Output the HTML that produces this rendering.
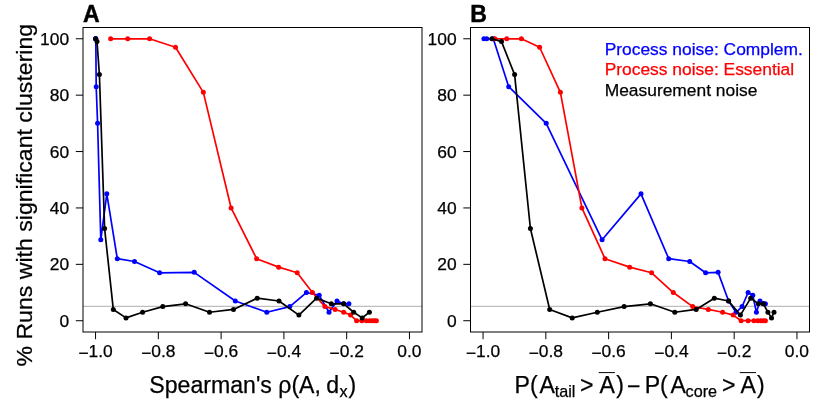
<!DOCTYPE html>
<html><head><meta charset="utf-8"><title>Figure</title>
<style>
html,body{margin:0;padding:0;background:#fff;}
body{width:830px;height:415px;overflow:hidden;font-family:"Liberation Sans", sans-serif;}
svg{display:block;font-family:"Liberation Sans", sans-serif;will-change:transform;}
svg text{font-family:"Liberation Sans", sans-serif;stroke:#000;stroke-width:0.25px;}
</style></head><body>
<svg width="830" height="415" viewBox="0 0 830 415">
<rect x="0" y="0" width="830" height="415" fill="#ffffff"/>
<line x1="83.0" y1="306.47" x2="422.0" y2="306.47" stroke="#bebebe" stroke-width="1.3"/>
<polyline points="95.60,38.78 95.70,38.78 95.80,38.78 96.20,86.71 97.60,123.36 100.80,239.80 106.80,193.85 117.30,258.69 134.50,261.51 159.60,272.79 194.20,272.37 235.30,300.98 266.80,312.26 289.80,306.62 306.40,292.53 319.20,295.35 329.00,312.26 337.00,300.98 343.70,303.80 348.90,303.80" fill="none" stroke="#0000ff" stroke-width="1.7" stroke-linejoin="round" stroke-linecap="round"/>
<circle cx="95.60" cy="38.78" r="2.5" fill="#0000ff"/><circle cx="95.70" cy="38.78" r="2.5" fill="#0000ff"/><circle cx="95.80" cy="38.78" r="2.5" fill="#0000ff"/><circle cx="96.20" cy="86.71" r="2.5" fill="#0000ff"/><circle cx="97.60" cy="123.36" r="2.5" fill="#0000ff"/><circle cx="100.80" cy="239.80" r="2.5" fill="#0000ff"/><circle cx="106.80" cy="193.85" r="2.5" fill="#0000ff"/><circle cx="117.30" cy="258.69" r="2.5" fill="#0000ff"/><circle cx="134.50" cy="261.51" r="2.5" fill="#0000ff"/><circle cx="159.60" cy="272.79" r="2.5" fill="#0000ff"/><circle cx="194.20" cy="272.37" r="2.5" fill="#0000ff"/><circle cx="235.30" cy="300.98" r="2.5" fill="#0000ff"/><circle cx="266.80" cy="312.26" r="2.5" fill="#0000ff"/><circle cx="289.80" cy="306.62" r="2.5" fill="#0000ff"/><circle cx="306.40" cy="292.53" r="2.5" fill="#0000ff"/><circle cx="319.20" cy="295.35" r="2.5" fill="#0000ff"/><circle cx="329.00" cy="312.26" r="2.5" fill="#0000ff"/><circle cx="337.00" cy="300.98" r="2.5" fill="#0000ff"/><circle cx="343.70" cy="303.80" r="2.5" fill="#0000ff"/><circle cx="348.90" cy="303.80" r="2.5" fill="#0000ff"/>
<polyline points="110.65,38.78 127.70,38.78 149.60,38.78 175.50,47.24 203.35,92.35 231.10,207.94 256.60,258.69 278.70,267.15 297.20,272.79 312.40,292.53 324.90,306.62 335.10,309.44 343.70,312.26 350.50,315.08 356.60,320.72 361.90,320.72 366.40,320.72 369.60,320.72 372.10,320.72 374.40,320.72 376.40,320.72" fill="none" stroke="#ff0000" stroke-width="1.7" stroke-linejoin="round" stroke-linecap="round"/>
<circle cx="110.65" cy="38.78" r="2.5" fill="#ff0000"/><circle cx="127.70" cy="38.78" r="2.5" fill="#ff0000"/><circle cx="149.60" cy="38.78" r="2.5" fill="#ff0000"/><circle cx="175.50" cy="47.24" r="2.5" fill="#ff0000"/><circle cx="203.35" cy="92.35" r="2.5" fill="#ff0000"/><circle cx="231.10" cy="207.94" r="2.5" fill="#ff0000"/><circle cx="256.60" cy="258.69" r="2.5" fill="#ff0000"/><circle cx="278.70" cy="267.15" r="2.5" fill="#ff0000"/><circle cx="297.20" cy="272.79" r="2.5" fill="#ff0000"/><circle cx="312.40" cy="292.53" r="2.5" fill="#ff0000"/><circle cx="324.90" cy="306.62" r="2.5" fill="#ff0000"/><circle cx="335.10" cy="309.44" r="2.5" fill="#ff0000"/><circle cx="343.70" cy="312.26" r="2.5" fill="#ff0000"/><circle cx="350.50" cy="315.08" r="2.5" fill="#ff0000"/><circle cx="356.60" cy="320.72" r="2.5" fill="#ff0000"/><circle cx="361.90" cy="320.72" r="2.5" fill="#ff0000"/><circle cx="366.40" cy="320.72" r="2.5" fill="#ff0000"/><circle cx="369.60" cy="320.72" r="2.5" fill="#ff0000"/><circle cx="372.10" cy="320.72" r="2.5" fill="#ff0000"/><circle cx="374.40" cy="320.72" r="2.5" fill="#ff0000"/><circle cx="376.40" cy="320.72" r="2.5" fill="#ff0000"/>
<polyline points="95.60,38.78 97.00,41.60 99.40,74.59 104.60,228.53 113.30,309.44 126.00,317.90 142.60,312.26 162.80,306.62 185.60,303.80 209.50,312.26 233.50,309.44 257.20,298.16 279.00,300.98 298.90,315.08 316.60,298.16 331.30,303.80 343.70,303.80 353.70,312.26 362.20,317.90 369.40,312.26" fill="none" stroke="#000000" stroke-width="1.7" stroke-linejoin="round" stroke-linecap="round"/>
<circle cx="95.60" cy="38.78" r="2.5" fill="#000000"/><circle cx="97.00" cy="41.60" r="2.5" fill="#000000"/><circle cx="99.40" cy="74.59" r="2.5" fill="#000000"/><circle cx="104.60" cy="228.53" r="2.5" fill="#000000"/><circle cx="113.30" cy="309.44" r="2.5" fill="#000000"/><circle cx="126.00" cy="317.90" r="2.5" fill="#000000"/><circle cx="142.60" cy="312.26" r="2.5" fill="#000000"/><circle cx="162.80" cy="306.62" r="2.5" fill="#000000"/><circle cx="185.60" cy="303.80" r="2.5" fill="#000000"/><circle cx="209.50" cy="312.26" r="2.5" fill="#000000"/><circle cx="233.50" cy="309.44" r="2.5" fill="#000000"/><circle cx="257.20" cy="298.16" r="2.5" fill="#000000"/><circle cx="279.00" cy="300.98" r="2.5" fill="#000000"/><circle cx="298.90" cy="315.08" r="2.5" fill="#000000"/><circle cx="316.60" cy="298.16" r="2.5" fill="#000000"/><circle cx="331.30" cy="303.80" r="2.5" fill="#000000"/><circle cx="343.70" cy="303.80" r="2.5" fill="#000000"/><circle cx="353.70" cy="312.26" r="2.5" fill="#000000"/><circle cx="362.20" cy="317.90" r="2.5" fill="#000000"/><circle cx="369.40" cy="312.26" r="2.5" fill="#000000"/>
<rect x="83.0" y="27.5" width="339.0" height="304.5" fill="none" stroke="#000" stroke-width="1"/>
<line x1="95.56" y1="332.0" x2="95.56" y2="339.2" stroke="#000" stroke-width="1"/>
<text x="95.56" y="357.1" text-anchor="middle" font-size="17.4"><tspan dy="1.9">−</tspan><tspan dy="-1.9">1.0</tspan></text>
<line x1="158.34" y1="332.0" x2="158.34" y2="339.2" stroke="#000" stroke-width="1"/>
<text x="158.34" y="357.1" text-anchor="middle" font-size="17.4"><tspan dy="1.9">−</tspan><tspan dy="-1.9">0.8</tspan></text>
<line x1="221.12" y1="332.0" x2="221.12" y2="339.2" stroke="#000" stroke-width="1"/>
<text x="221.12" y="357.1" text-anchor="middle" font-size="17.4"><tspan dy="1.9">−</tspan><tspan dy="-1.9">0.6</tspan></text>
<line x1="283.90" y1="332.0" x2="283.90" y2="339.2" stroke="#000" stroke-width="1"/>
<text x="283.90" y="357.1" text-anchor="middle" font-size="17.4"><tspan dy="1.9">−</tspan><tspan dy="-1.9">0.4</tspan></text>
<line x1="346.68" y1="332.0" x2="346.68" y2="339.2" stroke="#000" stroke-width="1"/>
<text x="346.68" y="357.1" text-anchor="middle" font-size="17.4"><tspan dy="1.9">−</tspan><tspan dy="-1.9">0.2</tspan></text>
<line x1="409.46" y1="332.0" x2="409.46" y2="339.2" stroke="#000" stroke-width="1"/>
<text x="409.46" y="357.1" text-anchor="middle" font-size="17.4">0.0</text>
<line x1="83.0" y1="320.72" x2="75.8" y2="320.72" stroke="#000" stroke-width="1"/>
<text x="69.1" y="327.02" text-anchor="end" font-size="17.4">0</text>
<line x1="83.0" y1="264.33" x2="75.8" y2="264.33" stroke="#000" stroke-width="1"/>
<text x="69.1" y="270.38" text-anchor="end" font-size="17.4">20</text>
<line x1="83.0" y1="207.94" x2="75.8" y2="207.94" stroke="#000" stroke-width="1"/>
<text x="69.1" y="214.24" text-anchor="end" font-size="17.4">40</text>
<line x1="83.0" y1="151.56" x2="75.8" y2="151.56" stroke="#000" stroke-width="1"/>
<text x="69.1" y="157.86" text-anchor="end" font-size="17.4">60</text>
<line x1="83.0" y1="95.17" x2="75.8" y2="95.17" stroke="#000" stroke-width="1"/>
<text x="69.1" y="101.47" text-anchor="end" font-size="17.4">80</text>
<line x1="83.0" y1="38.78" x2="75.8" y2="38.78" stroke="#000" stroke-width="1"/>
<text x="69.1" y="45.08" text-anchor="end" font-size="17.4">100</text>
<text x="83.1" y="22.0" font-size="23.1" font-weight="bold" style="stroke-width:0.45px">A</text>
<line x1="470.5" y1="306.47" x2="809.5" y2="306.47" stroke="#bebebe" stroke-width="1.3"/>
<polyline points="483.90,38.78 486.70,38.78 493.30,38.78 508.70,86.71 546.20,123.36 602.10,239.80 641.00,193.85 668.70,258.69 689.70,261.51 705.60,272.79 718.10,272.37 728.60,300.98 736.00,312.26 742.10,306.62 748.10,292.53 752.80,295.35 756.40,312.26 760.00,300.98 763.40,303.80 765.40,303.80" fill="none" stroke="#0000ff" stroke-width="1.7" stroke-linejoin="round" stroke-linecap="round"/>
<circle cx="483.90" cy="38.78" r="2.5" fill="#0000ff"/><circle cx="486.70" cy="38.78" r="2.5" fill="#0000ff"/><circle cx="493.30" cy="38.78" r="2.5" fill="#0000ff"/><circle cx="508.70" cy="86.71" r="2.5" fill="#0000ff"/><circle cx="546.20" cy="123.36" r="2.5" fill="#0000ff"/><circle cx="602.10" cy="239.80" r="2.5" fill="#0000ff"/><circle cx="641.00" cy="193.85" r="2.5" fill="#0000ff"/><circle cx="668.70" cy="258.69" r="2.5" fill="#0000ff"/><circle cx="689.70" cy="261.51" r="2.5" fill="#0000ff"/><circle cx="705.60" cy="272.79" r="2.5" fill="#0000ff"/><circle cx="718.10" cy="272.37" r="2.5" fill="#0000ff"/><circle cx="728.60" cy="300.98" r="2.5" fill="#0000ff"/><circle cx="736.00" cy="312.26" r="2.5" fill="#0000ff"/><circle cx="742.10" cy="306.62" r="2.5" fill="#0000ff"/><circle cx="748.10" cy="292.53" r="2.5" fill="#0000ff"/><circle cx="752.80" cy="295.35" r="2.5" fill="#0000ff"/><circle cx="756.40" cy="312.26" r="2.5" fill="#0000ff"/><circle cx="760.00" cy="300.98" r="2.5" fill="#0000ff"/><circle cx="763.40" cy="303.80" r="2.5" fill="#0000ff"/><circle cx="765.40" cy="303.80" r="2.5" fill="#0000ff"/>
<polyline points="494.90,38.78 506.70,38.78 521.40,38.78 539.60,47.24 560.40,92.35 581.90,207.94 605.00,258.69 629.70,267.15 651.60,272.79 673.30,292.53 692.70,306.62 708.30,309.44 722.60,312.26 733.20,315.08 741.10,320.72 748.10,320.72 753.90,320.72 757.70,320.72 760.60,320.72 763.10,320.72 765.40,320.72" fill="none" stroke="#ff0000" stroke-width="1.7" stroke-linejoin="round" stroke-linecap="round"/>
<circle cx="494.90" cy="38.78" r="2.5" fill="#ff0000"/><circle cx="506.70" cy="38.78" r="2.5" fill="#ff0000"/><circle cx="521.40" cy="38.78" r="2.5" fill="#ff0000"/><circle cx="539.60" cy="47.24" r="2.5" fill="#ff0000"/><circle cx="560.40" cy="92.35" r="2.5" fill="#ff0000"/><circle cx="581.90" cy="207.94" r="2.5" fill="#ff0000"/><circle cx="605.00" cy="258.69" r="2.5" fill="#ff0000"/><circle cx="629.70" cy="267.15" r="2.5" fill="#ff0000"/><circle cx="651.60" cy="272.79" r="2.5" fill="#ff0000"/><circle cx="673.30" cy="292.53" r="2.5" fill="#ff0000"/><circle cx="692.70" cy="306.62" r="2.5" fill="#ff0000"/><circle cx="708.30" cy="309.44" r="2.5" fill="#ff0000"/><circle cx="722.60" cy="312.26" r="2.5" fill="#ff0000"/><circle cx="733.20" cy="315.08" r="2.5" fill="#ff0000"/><circle cx="741.10" cy="320.72" r="2.5" fill="#ff0000"/><circle cx="748.10" cy="320.72" r="2.5" fill="#ff0000"/><circle cx="753.90" cy="320.72" r="2.5" fill="#ff0000"/><circle cx="757.70" cy="320.72" r="2.5" fill="#ff0000"/><circle cx="760.60" cy="320.72" r="2.5" fill="#ff0000"/><circle cx="763.10" cy="320.72" r="2.5" fill="#ff0000"/><circle cx="765.40" cy="320.72" r="2.5" fill="#ff0000"/>
<polyline points="491.90,38.78 501.50,41.60 514.60,74.59 530.40,228.53 549.70,309.44 572.20,317.90 597.30,312.26 624.10,306.62 650.40,303.80 674.80,312.26 696.20,309.44 714.30,298.16 728.60,300.98 740.40,315.08 750.70,298.16 758.30,303.80 763.40,303.80 767.90,312.26 771.50,317.90 774.00,312.26" fill="none" stroke="#000000" stroke-width="1.7" stroke-linejoin="round" stroke-linecap="round"/>
<circle cx="491.90" cy="38.78" r="2.5" fill="#000000"/><circle cx="501.50" cy="41.60" r="2.5" fill="#000000"/><circle cx="514.60" cy="74.59" r="2.5" fill="#000000"/><circle cx="530.40" cy="228.53" r="2.5" fill="#000000"/><circle cx="549.70" cy="309.44" r="2.5" fill="#000000"/><circle cx="572.20" cy="317.90" r="2.5" fill="#000000"/><circle cx="597.30" cy="312.26" r="2.5" fill="#000000"/><circle cx="624.10" cy="306.62" r="2.5" fill="#000000"/><circle cx="650.40" cy="303.80" r="2.5" fill="#000000"/><circle cx="674.80" cy="312.26" r="2.5" fill="#000000"/><circle cx="696.20" cy="309.44" r="2.5" fill="#000000"/><circle cx="714.30" cy="298.16" r="2.5" fill="#000000"/><circle cx="728.60" cy="300.98" r="2.5" fill="#000000"/><circle cx="740.40" cy="315.08" r="2.5" fill="#000000"/><circle cx="750.70" cy="298.16" r="2.5" fill="#000000"/><circle cx="758.30" cy="303.80" r="2.5" fill="#000000"/><circle cx="763.40" cy="303.80" r="2.5" fill="#000000"/><circle cx="767.90" cy="312.26" r="2.5" fill="#000000"/><circle cx="771.50" cy="317.90" r="2.5" fill="#000000"/><circle cx="774.00" cy="312.26" r="2.5" fill="#000000"/>
<rect x="470.5" y="27.5" width="339.0" height="304.5" fill="none" stroke="#000" stroke-width="1"/>
<line x1="483.06" y1="332.0" x2="483.06" y2="339.2" stroke="#000" stroke-width="1"/>
<text x="483.06" y="357.1" text-anchor="middle" font-size="17.4"><tspan dy="1.9">−</tspan><tspan dy="-1.9">1.0</tspan></text>
<line x1="545.84" y1="332.0" x2="545.84" y2="339.2" stroke="#000" stroke-width="1"/>
<text x="545.84" y="357.1" text-anchor="middle" font-size="17.4"><tspan dy="1.9">−</tspan><tspan dy="-1.9">0.8</tspan></text>
<line x1="608.62" y1="332.0" x2="608.62" y2="339.2" stroke="#000" stroke-width="1"/>
<text x="608.62" y="357.1" text-anchor="middle" font-size="17.4"><tspan dy="1.9">−</tspan><tspan dy="-1.9">0.6</tspan></text>
<line x1="671.40" y1="332.0" x2="671.40" y2="339.2" stroke="#000" stroke-width="1"/>
<text x="671.40" y="357.1" text-anchor="middle" font-size="17.4"><tspan dy="1.9">−</tspan><tspan dy="-1.9">0.4</tspan></text>
<line x1="734.18" y1="332.0" x2="734.18" y2="339.2" stroke="#000" stroke-width="1"/>
<text x="734.18" y="357.1" text-anchor="middle" font-size="17.4"><tspan dy="1.9">−</tspan><tspan dy="-1.9">0.2</tspan></text>
<line x1="796.96" y1="332.0" x2="796.96" y2="339.2" stroke="#000" stroke-width="1"/>
<text x="796.96" y="357.1" text-anchor="middle" font-size="17.4">0.0</text>
<line x1="470.5" y1="320.72" x2="463.3" y2="320.72" stroke="#000" stroke-width="1"/>
<text x="456.6" y="327.02" text-anchor="end" font-size="17.4">0</text>
<line x1="470.5" y1="264.33" x2="463.3" y2="264.33" stroke="#000" stroke-width="1"/>
<text x="456.6" y="270.38" text-anchor="end" font-size="17.4">20</text>
<line x1="470.5" y1="207.94" x2="463.3" y2="207.94" stroke="#000" stroke-width="1"/>
<text x="456.6" y="214.24" text-anchor="end" font-size="17.4">40</text>
<line x1="470.5" y1="151.56" x2="463.3" y2="151.56" stroke="#000" stroke-width="1"/>
<text x="456.6" y="157.86" text-anchor="end" font-size="17.4">60</text>
<line x1="470.5" y1="95.17" x2="463.3" y2="95.17" stroke="#000" stroke-width="1"/>
<text x="456.6" y="101.47" text-anchor="end" font-size="17.4">80</text>
<line x1="470.5" y1="38.78" x2="463.3" y2="38.78" stroke="#000" stroke-width="1"/>
<text x="456.6" y="45.08" text-anchor="end" font-size="17.4">100</text>
<text x="470.3" y="22.0" font-size="23.1" font-weight="bold" style="stroke-width:0.45px">B</text>
<text transform="translate(32.2,195.2) rotate(-90) scale(1,0.97)" text-anchor="middle" font-size="23.1">% Runs with significant clustering</text>
<text x="149.35" y="392.50" font-size="23.1" xml:space="preserve">Spearman's ρ(A,</text>
<text x="326.20" y="392.50" font-size="23.1" xml:space="preserve">d</text>
<text x="339.40" y="396.50" font-size="16.2" xml:space="preserve">x</text>
<text x="348.50" y="392.50" font-size="23.1" xml:space="preserve">)</text>
<text x="514.50" y="392.50" font-size="23.1" xml:space="preserve">P(</text>
<text x="539.55" y="392.50" font-size="23.1" xml:space="preserve">A</text>
<text x="554.70" y="396.50" font-size="16.2" xml:space="preserve">tail</text>
<text x="579.90" y="392.50" font-size="23.1" xml:space="preserve">&gt;</text>
<text x="599.45" y="392.50" font-size="23.1" xml:space="preserve">A</text>
<text x="616.30" y="392.50" font-size="23.1" xml:space="preserve">)</text>
<text x="627.00" y="393.70" font-size="23.1" xml:space="preserve">−</text>
<text x="644.70" y="392.50" font-size="23.1" xml:space="preserve">P(</text>
<text x="670.55" y="392.50" font-size="23.1" xml:space="preserve">A</text>
<text x="685.60" y="396.50" font-size="16.2" xml:space="preserve">core</text>
<text x="722.10" y="392.50" font-size="23.1" xml:space="preserve">&gt;</text>
<text x="740.55" y="392.50" font-size="23.1" xml:space="preserve">A</text>
<text x="757.00" y="392.50" font-size="23.1" xml:space="preserve">)</text>
<line x1="598.7" y1="372.6" x2="614.9" y2="372.6" stroke="#000" stroke-width="1"/>
<line x1="739.8" y1="372.6" x2="756.0" y2="372.6" stroke="#000" stroke-width="1"/>
<text x="604.7" y="54.7" font-size="17.4" fill="#0000ff" style="stroke:#0000ff">Process noise: Complem.</text>
<text x="604.7" y="75.3" font-size="17.4" fill="#ff0000" style="stroke:#ff0000">Process noise: Essential</text>
<text x="604.7" y="95.9" font-size="17.4" fill="#000">Measurement noise</text>
</svg>
</body></html>
